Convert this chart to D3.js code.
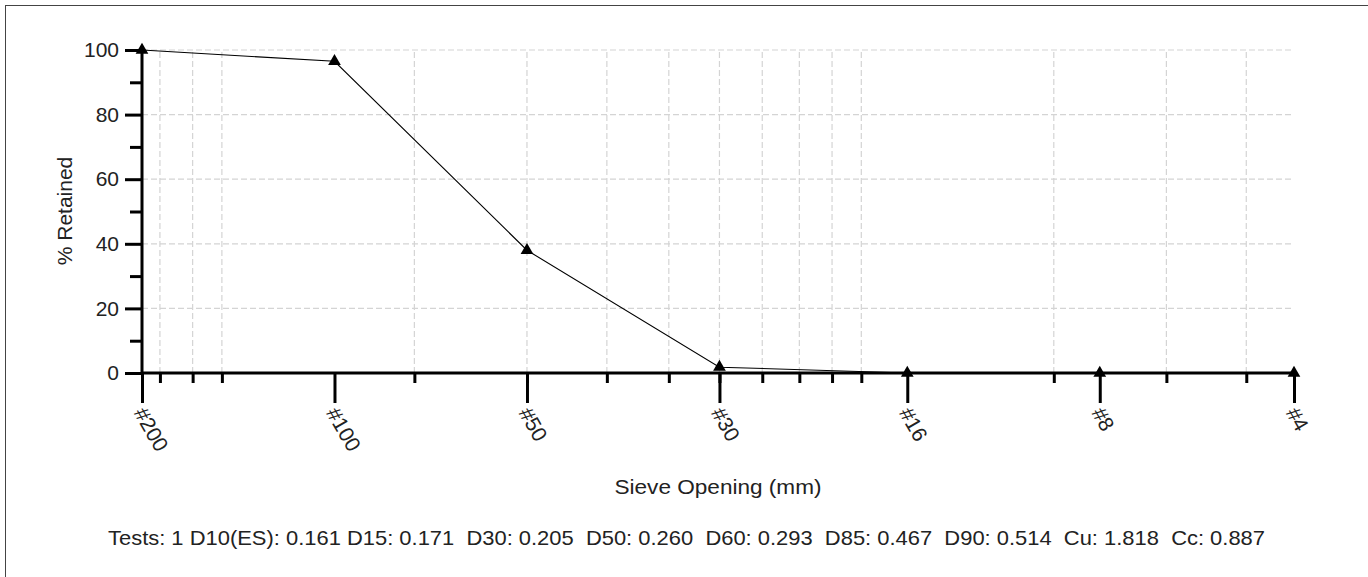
<!DOCTYPE html>
<html>
<head>
<meta charset="utf-8">
<script src="https://cdn.jsdelivr.net/npm/d3@7/dist/d3.min.js"></script>
<style>
  html, body { margin: 0; padding: 0; background: #fff; }
  svg { display: block; }
  text { font-family: "Liberation Sans", Arial, sans-serif; fill: #222; }
</style>
</head>
<body>
<svg id="chart" width="1368" height="577"></svg>
<script>
// ---- data ----
const sieveLabels = ["#200", "#100", "#50", "#30", "#16", "#8", "#4"];
const sieveSizes = [0.075, 0.15, 0.3, 0.6, 1.18, 2.36, 4.75];
const percentRetained = [100, 96.5, 38, 1.8, 0, 0, 0];
const logMinorTicks = [0.08, 0.09, 0.1, 0.2, 0.3, 0.4, 0.5, 0.6, 0.7, 0.8, 0.9, 1, 2, 3, 4];
const yMajorTicks = [0, 20, 40, 60, 80, 100];
const yMinorTicks = [10, 30, 50, 70, 90];
const xTitle = "Sieve Opening (mm)";
const yTitle = "% Retained";
const summaryText = "Tests: 1 D10(ES): 0.161 D15: 0.171  D30: 0.205  D50: 0.260  D60: 0.293  D85: 0.467  D90: 0.514  Cu: 1.818  Cc: 0.887";

(function () {
// ---- layout ----
const svg = d3.select("#chart");
const pL = 142, pR = 1294, pT = 50, pB = 373;
const x = d3.scaleLog().domain([sieveSizes[0], sieveSizes[sieveSizes.length - 1]]).range([pL, pR]);
const y = d3.scaleLinear().domain([0, 100]).range([pB, pT]);

// outer border
svg.append("rect").attr("x", 5.5).attr("y", 5.5).attr("width", 1400).attr("height", 700)
  .attr("fill", "none").attr("stroke", "#444").attr("stroke-width", 1);

// grid
const grid = svg.append("g").attr("stroke", "#d4d4d4").attr("stroke-width", 1.2).attr("stroke-dasharray", "6,3");
grid.selectAll("line.h").data(yMajorTicks.filter(d => d > 0)).join("line").attr("class", "h")
  .attr("x1", pL).attr("x2", pR).attr("y1", d => y(d)).attr("y2", d => y(d));
grid.selectAll("line.v").data(logMinorTicks).join("line").attr("class", "v")
  .attr("x1", d => x(d)).attr("x2", d => x(d)).attr("y1", y(0)).attr("y2", y(100));

// data line
const pts = sieveSizes.map((s, i) => [s, percentRetained[i]]);
svg.append("path").datum(pts)
  .attr("fill", "none").attr("stroke", "#000").attr("stroke-width", 1.1)
  .attr("d", d3.line().x(d => x(d[0])).y(d => y(d[1])));

// x axis
const xAxisG = svg.append("g").attr("transform", `translate(0,${pB})`);
xAxisG.call(d3.axisBottom(x).tickValues(logMinorTicks).tickSize(10).tickFormat(""));
xAxisG.select(".domain").remove();
xAxisG.selectAll(".tick line").attr("stroke", "#000").attr("stroke-width", 3);
const xMajorG = svg.append("g").attr("transform", `translate(0,${pB})`);
xMajorG.call(d3.axisBottom(x).tickValues(sieveSizes).tickSize(30).tickFormat((d, i) => sieveLabels[i]));
xMajorG.select(".domain").remove();
xMajorG.selectAll(".tick line").attr("stroke", "#000").attr("stroke-width", 3);
xMajorG.selectAll(".tick text")
  .attr("font-size", 21).attr("text-anchor", "start").attr("fill", "#222")
  .attr("y", 0).attr("dy", "0.35em")
  .attr("transform", "translate(-3,36) rotate(60)");
svg.append("line").attr("x1", pL).attr("x2", pR + 2).attr("y1", pB).attr("y2", pB)
  .attr("stroke", "#000").attr("stroke-width", 3);

// y axis
const yMinorG = svg.append("g").attr("transform", `translate(${pL},0)`);
yMinorG.call(d3.axisLeft(y).tickValues(yMinorTicks).tickSize(12).tickFormat(""));
yMinorG.select(".domain").remove();
yMinorG.selectAll(".tick line").attr("stroke", "#000").attr("stroke-width", 3);
const yMajorG = svg.append("g").attr("transform", `translate(${pL},0)`);
yMajorG.call(d3.axisLeft(y).tickValues(yMajorTicks).tickSize(17).tickPadding(6));
yMajorG.select(".domain").remove();
yMajorG.selectAll(".tick line").attr("stroke", "#000").attr("stroke-width", 3);
yMajorG.selectAll(".tick text").attr("font-size", 21).attr("fill", "#222");
svg.append("line").attr("x1", pL).attr("x2", pL).attr("y1", pB + 1).attr("y2", pT - 4)
  .attr("stroke", "#000").attr("stroke-width", 3);

// markers
svg.append("g").selectAll("path").data(pts).join("path")
  .attr("transform", d => `translate(${x(d[0])},${y(d[1])})`)
  .attr("d", d3.symbol().type(d3.symbolTriangle).size(70))
  .attr("fill", "#000");

// titles
svg.append("text").attr("x", 718).attr("y", 494).attr("text-anchor", "middle")
  .attr("font-size", 21).attr("textLength", 207).attr("lengthAdjust", "spacingAndGlyphs")
  .text(xTitle);
svg.append("text").attr("transform", "translate(72,211) rotate(-90)").attr("text-anchor", "middle")
  .attr("font-size", 21).text(yTitle);
svg.append("text").attr("x", 686.5).attr("y", 545).attr("text-anchor", "middle")
  .attr("font-size", 21).attr("textLength", 1157).attr("lengthAdjust", "spacingAndGlyphs")
  .style("white-space", "pre")
  .text(summaryText);
})();
</script>
</body>
</html>
